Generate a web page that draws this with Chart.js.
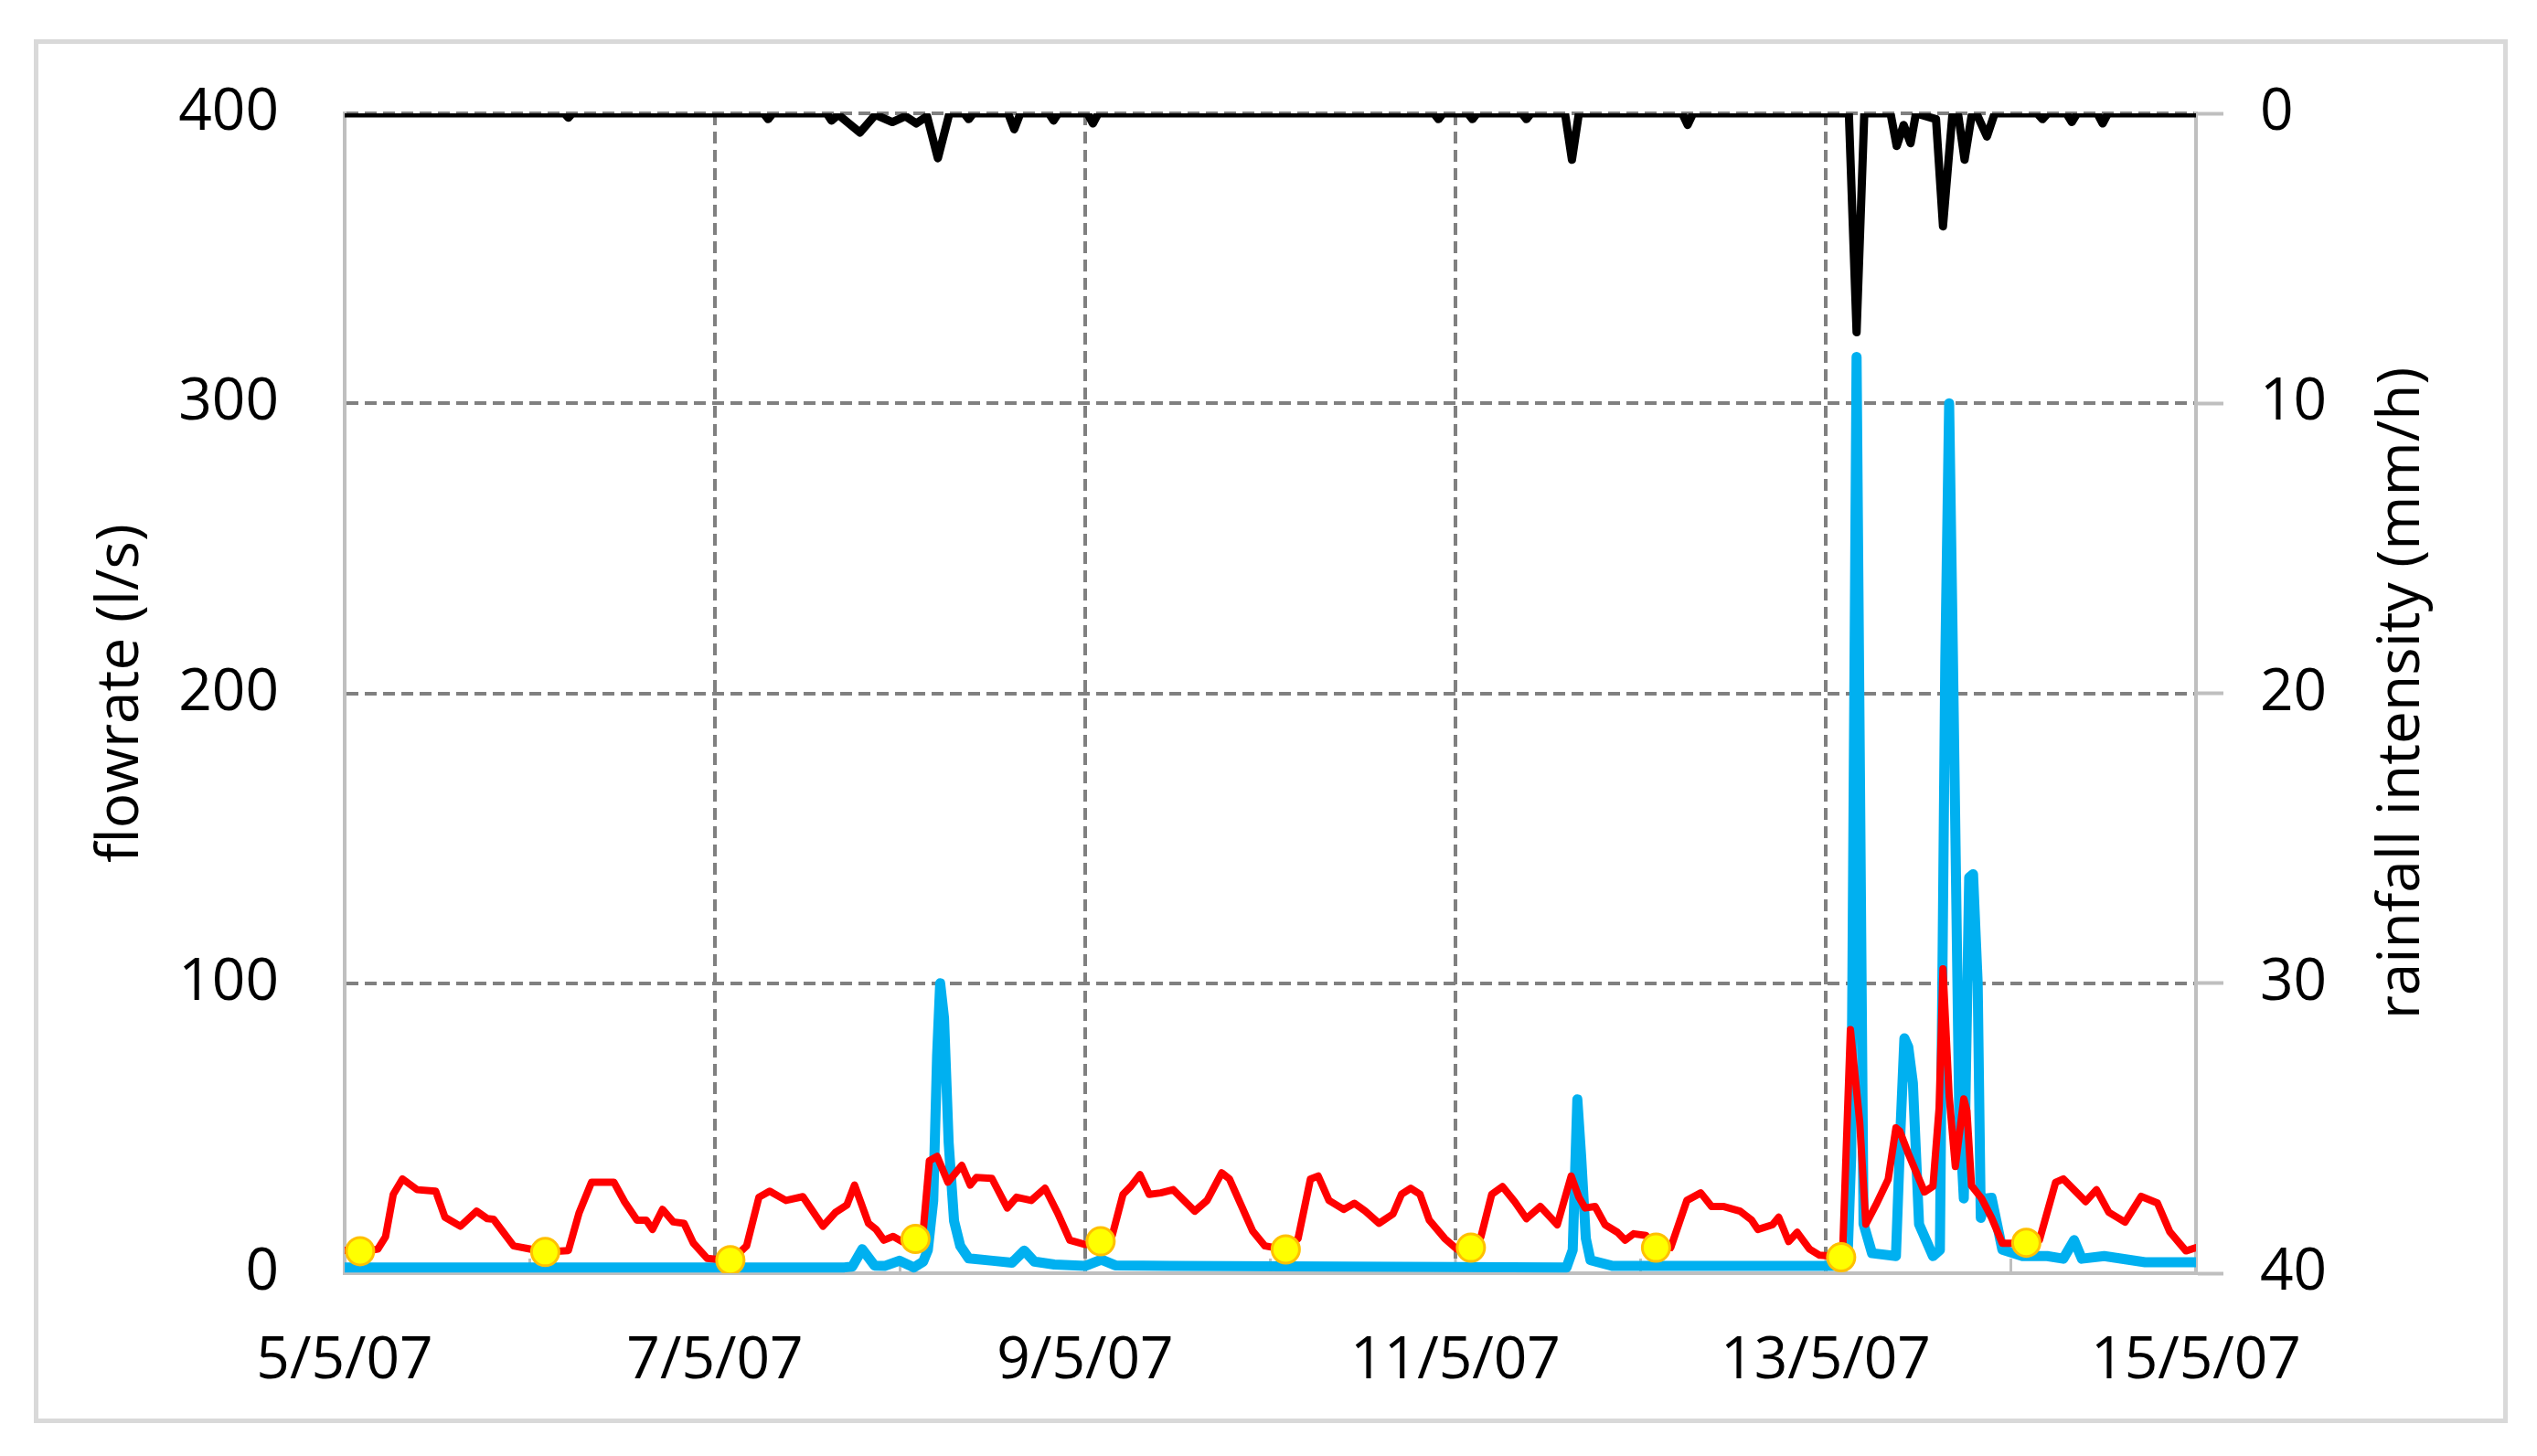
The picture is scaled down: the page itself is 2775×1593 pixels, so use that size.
<!DOCTYPE html>
<html>
<head>
<meta charset="utf-8">
<script src="https://cdn.jsdelivr.net/npm/chart.js@4.4.1/dist/chart.umd.min.js"></script>
<style>
    html, body { margin: 0; padding: 0; background: #fff; }
    #frame {
        position: absolute; left: 37px; top: 43px; width: 2706px; height: 1514px;
        box-sizing: border-box; border: 5px solid #d9d9d9; pointer-events: none;
    }
    #wrap { position: absolute; left: 0; top: 0; width: 2775px; height: 1593px; }
</style>
</head>
<body>
<div id="frame"></div>
<div id="wrap"><canvas id="mainChart"></canvas></div>
<script>
// Data (x = hours since 5/5/07 00:00)
const dayLabels = ['5/5/07', '6/5/07', '7/5/07', '8/5/07', '9/5/07', '10/5/07',
    '11/5/07', '12/5/07', '13/5/07', '14/5/07', '15/5/07'];
const flowTicks = [0, 100, 200, 300, 400];
const rainTicks = [0, 10, 20, 30, 40];

// red flowrate
const redHours = [0, 2, 4.3, 5.3, 6.3, 7.5, 9.4, 11.8, 13, 15, 17.1, 18.5, 19.3, 21.9, 23.7, 26, 29, 30.4, 32, 34.9,
    36.3, 37.9, 39.1, 39.9, 41.2, 42.6, 44, 45.2, 47, 50.1, 52.1, 53.7, 55.1, 57.2, 59.4, 62, 63.6, 65.1, 66.1, 67.9,
    68.9, 69.9, 71.1, 72.3, 74, 75, 75.8, 76.8, 78.2, 80, 81.1, 81.9, 83.9, 85.9, 87.1, 89, 90.8, 92.4, 94, 96,
    97.9, 99.5, 100.9, 101.9, 103.1, 104.3, 105.8, 107.4, 110.2, 111.8, 113.7, 114.7, 117.7, 119.3, 122, 123.6, 125.2, 126.2, 127.6, 129.5,
    130.9, 132.3, 134.1, 135.9, 137, 138.2, 139.4, 140.6, 142.6, 144.2, 145.9, 147.3, 148.7, 150.1, 151.7, 153.2, 155, 157.2, 159, 160,
    160.8, 162.1, 163.4, 165, 166, 167.1, 168.7, 170, 171.9, 174, 175.8, 177.2, 178.8, 180.9, 182.4, 183.2, 185.1, 185.9, 187.2, 188.3,
    189.9, 191.2, 193.8, 194.2, 195.2, 196.4, 197.2, 198.5, 200.1, 201.1, 201.6, 202.7, 204.8, 205.9, 206.7, 207.2, 208, 208.8, 209.9, 210.3,
    210.9, 212.2, 213.5, 214.9, 217.8, 219.7, 221.8, 222.8, 225.7, 227.1, 228.7, 230.8, 232.9, 235, 236.6, 238.7, 240];
const redFlow = [7.9, 7.3, 8.3, 12.6, 27.2, 32.5, 28.8, 28.3, 19.3, 16.2, 21.4, 18.8, 18.6, 9.4, 8.5, 7.3, 7.8, 20.9, 31.4, 31.4,
    24.6, 18.3, 18.3, 15.1, 22, 17.7, 17.2, 10.4, 5.1, 4.3, 9.4, 26.2, 28.3, 25.1, 26.4, 16.2, 20.9, 23.5, 30.4, 17.2,
    15.1, 11.4, 12.7, 10.9, 12, 14.6, 38.8, 40.3, 31.4, 37.2, 30.4, 33, 32.7, 22.5, 26.2, 25.1, 29.3, 20.9, 11.4, 9.9,
    10.9, 13, 27.2, 29.9, 34, 27.2, 27.7, 28.8, 21.4, 25.1, 34.6, 32.5, 14.6, 9.4, 8.1, 12, 32.5, 33.5, 25.1, 22,
    24.1, 21.4, 17.2, 20.4, 27.2, 29.3, 27.2, 18.3, 12, 8.3, 8.8, 12.5, 27.2, 29.9, 24.6, 18.8, 23, 16.7, 33.5, 26.2,
    22.5, 23, 16.7, 14.1, 11.4, 13.6, 13, 8.8, 8.8, 25.1, 27.7, 23, 23, 21.4, 18.3, 15.1, 16.7, 19.3, 10.9, 14.1,
    8.3, 6.2, 5.7, 8, 84, 52.3, 16.9, 23.5, 32.4, 50.1, 49, 41.3, 28, 30, 57, 105, 61.2, 36.8, 60.1, 56,
    30.2, 25.8, 19.1, 10.3, 10.3, 11.4, 31.3, 32.5, 24.7, 28.8, 21, 17.6, 26.5, 24.2, 14.3, 7.7, 8.8];

// blue flowrate
const blueHours = [0, 64.8, 65.8, 67.1, 68.7, 70, 71.9, 73.8, 75, 75.6, 76.3, 76.8, 77.2, 77.7, 78.3, 79, 79.8, 80.9, 84, 86.5,
    88.1, 89.4, 92, 96, 98.1, 99.9, 107, 158.4, 159.2, 159.8, 160.3, 160.9, 161.5, 164.4, 193, 194.8, 195.3, 196, 196.5, 196.9,
    198, 201.1, 201.7, 202.2, 202.7, 203.3, 204.1, 205.9, 206.8, 207.5, 208, 208.5, 209.3, 209.9, 210.6, 211.1, 211.7, 212.1, 212.8, 213.5,
    214.9, 217.5, 220.7, 222.8, 224.2, 225.2, 228.1, 233.4, 240];
const blueFlow = [2, 2, 2.3, 8.3, 2.6, 2.5, 4.3, 2, 4, 8, 25, 75, 100, 88, 45, 18, 9.4, 5.1, 4.3, 3.6,
    7.8, 4, 3, 2.5, 4.7, 2.7, 2.5, 2, 8, 60, 40, 12, 4.5, 2.5, 2.5, 3, 40, 316, 150, 17,
    6.9, 5.9, 50, 81, 78, 65.6, 16.9, 5.9, 8, 211, 300, 211, 56.7, 25.8, 136.5, 137.6, 100, 19.1, 25.8, 26,
    8.1, 5.9, 5.9, 5, 11.4, 5, 5.9, 3.8, 3.8];

// rainfall intensity (right axis, reversed)
const rainHours = [0, 28.5, 29, 29.5, 54.3, 54.9, 55.5, 62.5, 63.1, 64, 66.8, 68.8, 71, 72.7, 74.1, 75.5, 76.9, 78.4, 80.3, 80.9,
    81.5, 86, 86.8, 87.6, 91.3, 91.9, 92.5, 96.3, 97, 97.7, 141.2, 141.8, 142.4, 145.6, 146.2, 146.8, 152.6, 153.2, 153.8, 158.2,
    159.1, 160, 173.4, 174.1, 174.8, 195, 196, 197, 200.4, 201.2, 202.1, 203, 203.7, 206.3, 207.2, 208.4, 209.2, 210, 210.9, 211.7,
    212.9, 213.9, 219.4, 220.1, 220.8, 223.2, 223.9, 224.6, 227.2, 227.9, 228.6, 240];
const rainIntensity = [0, 0, 0.15, 0, 0, 0.2, 0, 0, 0.25, 0.05, 0.66, 0.05, 0.3, 0.1, 0.35, 0.1, 1.55, 0, 0, 0.2,
    0, 0, 0.55, 0, 0, 0.25, 0, 0, 0.35, 0, 0, 0.2, 0, 0, 0.2, 0, 0, 0.2, 0, 0,
    1.6, 0, 0, 0.4, 0, 0, 7.55, 0, 0, 1.13, 0.4, 1.03, 0, 0.2, 3.9, 0.1, 0.1, 1.6, 0.1, 0.1,
    0.8, 0, 0, 0.2, 0, 0, 0.3, 0, 0, 0.35, 0, 0];

// yellow points
const markerHours = [2, 26, 50, 74, 98, 122, 146, 170, 194, 218];
const markerFlow = [7.6, 7.3, 4.5, 11.8, 11, 8.2, 8.8, 8.8, 5.5, 10.5];

const toPoints = (xs, ys) => xs.map((x, i) => ({ x: x, y: ys[i] }));

Chart.defaults.font.family = '"Open Sans", "Liberation Sans", sans-serif';
Chart.defaults.font.size = 64;
Chart.defaults.color = '#000';

// Axis titles (both read bottom to top)
const axisTitles = {
    id: 'axisTitles',
    afterDraw(chart) {
        const { ctx, chartArea } = chart;
        const midY = (chartArea.top + chartArea.bottom) / 2;
        const drawTitle = (text, x) => {
            ctx.save();
            ctx.font = '64px "Open Sans", "Liberation Sans", sans-serif';
            ctx.fillStyle = '#000';
            ctx.textAlign = 'center';
            ctx.textBaseline = 'middle';
            ctx.translate(x, midY);
            ctx.rotate(-Math.PI / 2);
            ctx.fillText(text, 0, 0);
            ctx.restore();
        };
        drawTitle('flowrate (l/s)', chartArea.left - 244);
        drawTitle('rainfall intensity (mm/h)', chartArea.right + 226);
    }
};

// Short inward tick marks on each day
const dayTicks = {
    id: 'dayTicks',
    beforeDatasetsDraw(chart) {
        const { ctx, chartArea, scales } = chart;
        ctx.save();
        ctx.strokeStyle = '#bfbfbf';
        ctx.lineWidth = 3;
        for (let d = 1; d < dayLabels.length - 1; d++) {
            const px = scales.x.getPixelForValue(d * 24);
            ctx.beginPath();
            ctx.moveTo(px, chartArea.bottom);
            ctx.lineTo(px, chartArea.bottom - 16);
            ctx.stroke();
        }
        ctx.restore();
    }
};

const ctx = document.getElementById('mainChart');
new Chart(ctx, {
    type: 'line',
    data: {
        datasets: [{
            label: 'points',
            data: toPoints(markerHours, markerFlow),
            yAxisID: 'y',
            showLine: false,
            pointRadius: 15,
            pointBackgroundColor: '#ffff00',
            pointBorderColor: '#ffc000',
            pointBorderWidth: 3
        }, {
            label: 'red',
            data: toPoints(redHours, redFlow),
            yAxisID: 'y',
            borderColor: '#ff0000',
            borderWidth: 8,
            borderJoinStyle: 'round',
            borderCapStyle: 'round',
            pointRadius: 0,
            tension: 0
        }, {
            label: 'blue',
            data: toPoints(blueHours, blueFlow),
            yAxisID: 'y',
            borderColor: '#00b0f0',
            borderWidth: 11,
            borderJoinStyle: 'round',
            borderCapStyle: 'round',
            pointRadius: 0,
            tension: 0
        }, {
            label: 'rain',
            data: toPoints(rainHours, rainIntensity),
            yAxisID: 'y2',
            borderColor: '#000000',
            borderWidth: 9,
            borderJoinStyle: 'round',
            borderCapStyle: 'round',
            pointRadius: 0,
            tension: 0
        }]
    },
    options: {
        responsive: true,
        maintainAspectRatio: false,
        animation: false,
        layout: { padding: { top: 124, left: 0, right: 0, bottom: 0 } },
        plugins: {
            legend: { display: false },
            tooltip: { enabled: false }
        },
        scales: {
            x: {
                type: 'linear',
                min: 0,
                max: 240,
                afterFit(scale) { scale.height = 200; },
                afterBuildTicks(scale) {
                    scale.ticks = dayLabels.map((lbl, i) => ({ value: i * 24 }));
                },
                ticks: {
                    autoSkip: false,
                    maxRotation: 0,
                    padding: 58,
                    callback: (value) => {
                        const i = Math.round(value / 24);
                        return i % 2 === 0 ? dayLabels[i] : '';
                    }
                },
                grid: {
                    drawTicks: false,
                    lineWidth: 4,
                    color: (c) => {
                        const v = c.tick ? c.tick.value : 0;
                        return (v % 48 === 0 && v > 0 && v < 240) ? '#808080' : 'rgba(0,0,0,0)';
                    }
                },
                border: { color: '#bfbfbf', width: 4, dash: [13, 7] }
            },
            y: {
                position: 'left',
                min: 0,
                max: 400,
                afterFit(scale) { scale.width = 377; },
                afterBuildTicks(scale) {
                    scale.ticks = flowTicks.map(v => ({ value: v }));
                },
                ticks: { padding: 72 },
                grid: {
                    drawTicks: false,
                    lineWidth: 4,
                    color: (c) => (c.tick && c.tick.value === 0) ? 'rgba(0,0,0,0)' : '#808080'
                },
                border: { color: '#bfbfbf', width: 4, dash: [13, 7] }
            },
            y2: {
                position: 'right',
                min: 0,
                max: 40,
                reverse: true,
                afterFit(scale) { scale.width = 373; },
                afterBuildTicks(scale) {
                    scale.ticks = rainTicks.map(v => ({ value: v }));
                },
                ticks: { padding: 40 },
                grid: {
                    drawOnChartArea: false,
                    drawTicks: true,
                    tickLength: 30,
                    tickColor: '#bfbfbf',
                    tickWidth: 4
                },
                border: { color: '#bfbfbf', width: 4 }
            }
        }
    },
    plugins: [dayTicks, axisTitles]
});
</script>
</body>
</html>
